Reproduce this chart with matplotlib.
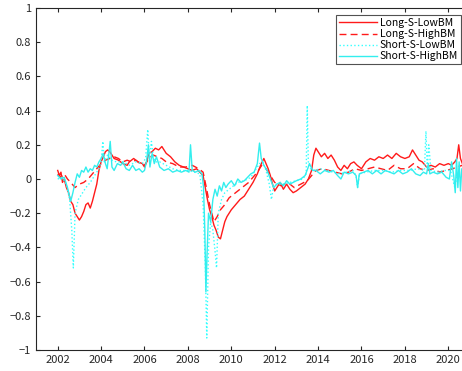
import matplotlib as mpl
mpl.use('Agg')
import numpy as np
import matplotlib.pyplot as plt

mpl.rcParams.update({
    'font.family': ['Noto Sans CJK JP', 'DejaVu Sans'],
    'font.size': 8,
    'axes.linewidth': 0.8,
})

# Long-S-LowBM
ll_t = [2002.0, 2002.08, 2002.15, 2002.22, 2002.3, 2002.4, 2002.5, 2002.6, 2002.7, 2002.8, 2002.9, 2003.0,
        2003.1, 2003.2, 2003.3, 2003.4, 2003.5, 2003.6, 2003.7, 2003.8, 2003.9, 2004.0, 2004.1, 2004.2,
        2004.3, 2004.4, 2004.5, 2004.6, 2004.8, 2005.0, 2005.2, 2005.3, 2005.5, 2005.7, 2005.9, 2006.0,
        2006.1, 2006.2, 2006.35, 2006.5, 2006.65, 2006.8, 2007.0, 2007.2, 2007.4, 2007.6, 2007.8, 2008.0,
        2008.2, 2008.4, 2008.55, 2008.7, 2008.8, 2008.9, 2009.0, 2009.1, 2009.2, 2009.3, 2009.4, 2009.5,
        2009.6, 2009.7, 2009.8, 2010.0, 2010.2, 2010.4, 2010.6, 2010.8, 2011.0, 2011.2, 2011.35, 2011.5,
        2011.6, 2011.7, 2011.8, 2011.9, 2012.0, 2012.1, 2012.25, 2012.4, 2012.55, 2012.7, 2012.85, 2013.0,
        2013.2, 2013.4, 2013.55, 2013.7, 2013.8, 2013.9, 2014.0, 2014.15, 2014.3, 2014.45, 2014.6, 2014.75,
        2014.9, 2015.05, 2015.2, 2015.35, 2015.5, 2015.65, 2015.8, 2016.0, 2016.2, 2016.4, 2016.6, 2016.8,
        2017.0, 2017.2, 2017.4, 2017.6, 2017.8, 2018.0, 2018.2, 2018.35, 2018.5, 2018.65, 2018.8, 2019.0,
        2019.2, 2019.4, 2019.6, 2019.8, 2020.0, 2020.15, 2020.3, 2020.4, 2020.48, 2020.56, 2020.65]
ll_v = [0.05, 0.02, 0.04, -0.02, 0.0, -0.05, -0.08, -0.13, -0.15, -0.2, -0.22, -0.24,
        -0.22, -0.19, -0.15, -0.14, -0.17, -0.13, -0.08, -0.03, 0.05, 0.1, 0.13, 0.16,
        0.17, 0.16, 0.14, 0.12, 0.11, 0.09, 0.08, 0.1, 0.12, 0.1, 0.09, 0.07,
        0.1, 0.15, 0.16, 0.18, 0.17, 0.19, 0.15, 0.13, 0.1, 0.08, 0.07, 0.06,
        0.05, 0.06, 0.04, 0.02, -0.05, -0.12, -0.18, -0.22, -0.27, -0.3, -0.34, -0.35,
        -0.3, -0.25, -0.22, -0.18, -0.15, -0.12, -0.1, -0.06, -0.02, 0.03, 0.08, 0.12,
        0.09, 0.06, 0.02, -0.03, -0.07, -0.05, -0.02, -0.06, -0.03, -0.06, -0.08, -0.07,
        -0.05, -0.03, 0.0, 0.05, 0.14, 0.18, 0.16, 0.13, 0.15, 0.12, 0.14, 0.11,
        0.07, 0.05, 0.08, 0.06, 0.09, 0.1, 0.08, 0.06, 0.1, 0.12, 0.11, 0.13,
        0.12, 0.14, 0.12, 0.15, 0.13, 0.12, 0.13, 0.17, 0.14, 0.11, 0.1, 0.07,
        0.08, 0.07, 0.09, 0.08, 0.09, 0.08, 0.1, 0.12, 0.2, 0.12, 0.09]

# Long-S-HighBM
lh_t = [2002.0, 2002.15, 2002.3, 2002.45, 2002.6, 2002.8, 2003.0, 2003.2, 2003.4, 2003.6, 2003.8, 2004.0,
        2004.2, 2004.4, 2004.6, 2004.8, 2005.0, 2005.2, 2005.4, 2005.6, 2005.8, 2006.0, 2006.2, 2006.4,
        2006.6, 2006.8, 2007.0, 2007.3, 2007.6, 2007.9, 2008.2, 2008.5, 2008.7, 2008.85, 2009.0, 2009.1,
        2009.2, 2009.35, 2009.5, 2009.7, 2009.9, 2010.2, 2010.5, 2010.8, 2011.0, 2011.2, 2011.4, 2011.6,
        2011.8, 2012.0, 2012.3, 2012.6, 2012.9, 2013.2, 2013.5, 2013.7, 2013.9, 2014.2, 2014.5, 2014.8,
        2015.1, 2015.4, 2015.7, 2016.0, 2016.3, 2016.6, 2016.9, 2017.2, 2017.5, 2017.8, 2018.1, 2018.4,
        2018.7, 2019.0, 2019.3, 2019.6, 2019.9, 2020.2, 2020.4, 2020.65]
lh_v = [0.03, 0.01, 0.03, 0.0, -0.02, -0.05, -0.03, -0.02, 0.0, 0.03, 0.06, 0.09,
        0.11, 0.12, 0.13, 0.12, 0.1, 0.11, 0.1, 0.11, 0.09, 0.08, 0.12, 0.14,
        0.13, 0.12, 0.1, 0.09, 0.07, 0.07, 0.08, 0.06, 0.04, -0.05, -0.15, -0.2,
        -0.25, -0.22, -0.18, -0.15, -0.11, -0.08, -0.05, -0.02, 0.01, 0.04, 0.08, 0.06,
        0.02, -0.02, -0.04, -0.02, -0.05, -0.03, -0.01, 0.02, 0.05, 0.06, 0.05, 0.04,
        0.03, 0.04, 0.06, 0.05, 0.06, 0.07, 0.06, 0.05, 0.08, 0.06, 0.06, 0.09,
        0.06, 0.05, 0.06, 0.04, 0.05, 0.06, 0.07, 0.08]

# Short-S-LowBM
sl_t = [2002.0, 2002.2, 2002.4, 2002.55, 2002.65, 2002.72, 2002.8, 2002.95, 2003.1, 2003.3, 2003.5, 2003.7,
        2003.9, 2004.0, 2004.08, 2004.15, 2004.3, 2004.5, 2004.7, 2005.0, 2005.3, 2005.6, 2005.9, 2006.05,
        2006.15, 2006.22, 2006.32, 2006.4, 2006.5, 2006.7, 2007.0, 2007.3, 2007.6, 2008.0, 2008.3, 2008.55,
        2008.7, 2008.8, 2008.87, 2008.95, 2009.05, 2009.15, 2009.25, 2009.32, 2009.4, 2009.55, 2009.7, 2010.0,
        2010.3, 2010.6, 2010.9, 2011.1, 2011.3, 2011.45, 2011.6, 2011.75, 2011.85, 2011.95, 2012.1, 2012.4,
        2012.7, 2013.0, 2013.3, 2013.45, 2013.5, 2013.55, 2013.65, 2013.85, 2014.1, 2014.4, 2014.7, 2015.0,
        2015.3, 2015.6, 2015.75, 2015.82, 2015.9, 2016.2, 2016.6, 2017.0, 2017.4, 2017.8, 2018.2, 2018.6,
        2018.9, 2018.97, 2019.03, 2019.1, 2019.2, 2019.5, 2019.8, 2020.1, 2020.3, 2020.4, 2020.5, 2020.65]
sl_v = [0.0, 0.01, -0.03, -0.12, -0.3, -0.52, -0.2, -0.12, -0.09, -0.05, -0.02, 0.02,
        0.06, 0.1, 0.22, 0.1, 0.14, 0.11, 0.1, 0.1, 0.08, 0.1, 0.09, 0.12,
        0.29, 0.12, 0.22, 0.13, 0.1, 0.1, 0.08, 0.06, 0.05, 0.05, 0.04, 0.03,
        -0.15, -0.5, -0.93, -0.4, -0.25, -0.3, -0.42, -0.52, -0.2, -0.12, -0.08, -0.05,
        -0.02, -0.01, 0.01, 0.05, 0.09, 0.1, 0.05, -0.03, -0.12, -0.04, -0.03, -0.03,
        -0.02, -0.01, 0.0, 0.03, 0.43, 0.1, 0.06, 0.05, 0.06, 0.05, 0.04, 0.03,
        0.04, 0.05, 0.02, -0.05, 0.03, 0.04, 0.05, 0.05, 0.04, 0.05, 0.05, 0.06,
        0.05, 0.28, 0.06, 0.2, 0.05, 0.04, 0.05, 0.05, -0.05, 0.02, 0.05, 0.04]

# Short-S-HighBM
sh_t = [2002.0, 2002.15, 2002.3, 2002.45, 2002.6, 2002.7, 2002.8, 2002.9, 2003.0, 2003.1, 2003.2, 2003.3,
        2003.4, 2003.5, 2003.6, 2003.7, 2003.8, 2003.9, 2004.0, 2004.1, 2004.2, 2004.28, 2004.35, 2004.42,
        2004.5, 2004.6, 2004.75, 2004.9, 2005.0, 2005.15, 2005.3, 2005.45, 2005.6, 2005.75, 2005.9, 2006.0,
        2006.1, 2006.18, 2006.25, 2006.35, 2006.45, 2006.55, 2006.7, 2006.9, 2007.1, 2007.3, 2007.5, 2007.7,
        2007.9, 2008.05, 2008.12, 2008.2, 2008.35, 2008.5, 2008.65, 2008.72, 2008.78, 2008.83, 2008.88, 2008.95,
        2009.05, 2009.15, 2009.25, 2009.35, 2009.45, 2009.55, 2009.65, 2009.75, 2009.85, 2010.0, 2010.15, 2010.3,
        2010.45, 2010.6, 2010.75, 2010.9, 2011.05, 2011.2, 2011.3, 2011.38, 2011.5, 2011.65, 2011.8, 2011.95,
        2012.1, 2012.25, 2012.4, 2012.55, 2012.7, 2012.85, 2013.0, 2013.2, 2013.4, 2013.52, 2013.6, 2013.75,
        2013.9, 2014.1, 2014.3, 2014.5, 2014.7, 2014.9, 2015.05, 2015.2, 2015.4, 2015.6, 2015.75, 2015.82,
        2015.9, 2016.1, 2016.3, 2016.5, 2016.7, 2016.9, 2017.1, 2017.3, 2017.5, 2017.7, 2017.9, 2018.1,
        2018.3, 2018.5, 2018.7, 2018.85, 2019.0, 2019.08, 2019.15, 2019.3, 2019.5, 2019.7, 2019.9, 2020.05,
        2020.15, 2020.25, 2020.32, 2020.38, 2020.44, 2020.5, 2020.56, 2020.62, 2020.68]
sh_v = [0.02, 0.0, 0.01, -0.05, -0.13, -0.08, -0.02, 0.03, 0.01, 0.05, 0.04, 0.07,
        0.04, 0.06, 0.05, 0.08, 0.07, 0.1, 0.12, 0.15, 0.09, 0.06, 0.14, 0.22,
        0.07, 0.05, 0.09, 0.08, 0.1, 0.06, 0.05, 0.08, 0.05, 0.06, 0.04, 0.05,
        0.11, 0.2, 0.07, 0.15, 0.09, 0.13, 0.07, 0.05, 0.06, 0.04, 0.05, 0.04,
        0.05, 0.04, 0.2, 0.05, 0.04, 0.05, 0.03, -0.05, -0.3, -0.66, -0.45, -0.2,
        -0.25, -0.12, -0.06, -0.1, -0.04, -0.07, -0.02, -0.05, -0.03, -0.01, -0.04, 0.0,
        -0.02, -0.01, 0.01, 0.03, 0.04, 0.09, 0.21, 0.12, 0.08, 0.05, 0.0, -0.05,
        -0.03, -0.02, -0.04, -0.01, -0.03, -0.02, -0.01, 0.0, 0.02, 0.06, 0.09, 0.05,
        0.05, 0.03, 0.05, 0.04, 0.05, 0.02, 0.0, 0.04, 0.03, 0.04, 0.02, -0.05,
        0.03, 0.04, 0.05, 0.03, 0.05, 0.03, 0.05, 0.04, 0.03, 0.05, 0.03, 0.04,
        0.06, 0.03, 0.02, 0.04, 0.03, 0.09, 0.03, 0.04, 0.03, 0.04, 0.01, 0.0,
        0.1, 0.02, -0.08, 0.12, -0.05, 0.1, -0.07, 0.06, 0.04]

fig = plt.figure(figsize=(4.62, 3.71), dpi=100)
ax = fig.add_axes([36 / 462, 21 / 371, 434 / 462, 342 / 371])

ax.plot(ll_t, ll_v, '-', color='#ff1a1a', lw=1.0, label='Long-S-LowBM')
ax.plot(lh_t, lh_v, '--', color='#ff1a1a', lw=1.0, dashes=(5, 3), label='Long-S-HighBM')
ax.plot(sl_t, sl_v, ':', color='#33ffff', lw=1.0, label='Short-S-LowBM')
ax.plot(sh_t, sh_v, '-', color='#33eeee', lw=1.0, label='Short-S-HighBM')

ax.set_xlim(2001, 2021)
ax.set_ylim(-1, 1)
ax.set_xticks(np.arange(2002, 2021, 2))
ax.set_yticks(np.arange(-1, 1.01, 0.2))
ax.set_yticklabels(['\u22121', '\u22120.8', '\u22120.6', '\u22120.4', '\u22120.2', '0',
                    '0.2', '0.4', '0.6', '0.8', '1'])
ax.tick_params(direction='in', top=True, right=True, length=3, colors='#262626', labelsize=8)
for s in ax.spines.values():
    s.set_color('#262626')

leg = ax.legend(loc='upper right', bbox_to_anchor=(461 / 462, 1 - 15 / 371),
                bbox_transform=fig.transFigure, fontsize=7.5, frameon=True, fancybox=False,
                borderpad=0.3, labelspacing=0.1, handlelength=3.6, handletextpad=0.3,
                borderaxespad=0)
leg.get_frame().set_edgecolor('#262626')
leg.get_frame().set_linewidth(0.8)

fig.savefig('out.png', dpi=100)
